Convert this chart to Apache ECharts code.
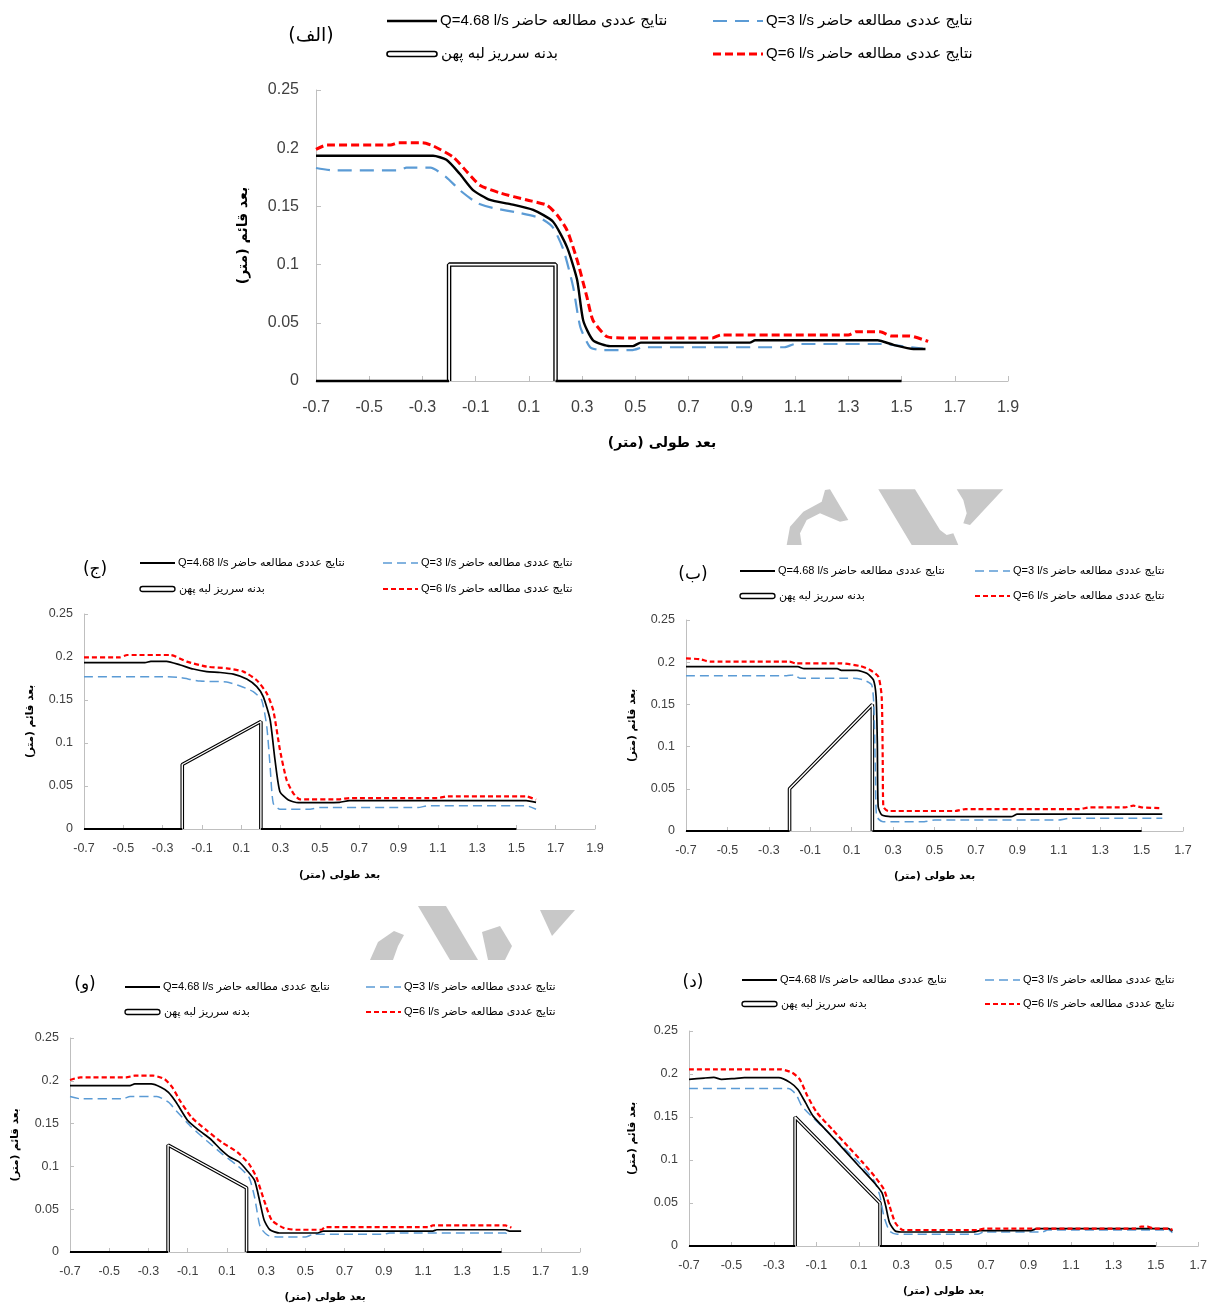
<!DOCTYPE html>
<html>
<head>
<meta charset="utf-8">
<script src="https://cdn.jsdelivr.net/npm/echarts@6/dist/echarts.min.js"></script>
<style>
  html, body { margin: 0; padding: 0; background: #fff; }
  #chart { width: 1210px; height: 1309px; }
</style>
</head>
<body>
<div id="chart"></div>
<script>
// legend / axis texts
const legendTexts = [
  'Q=4.68 l/s نتایج عددی مطالعه حاضر',
  'Q=3 l/s نتایج عددی مطالعه حاضر',
  'بدنه سرریز لبه پهن',
  'Q=6 l/s نتایج عددی مطالعه حاضر'
];
const xTitle = 'بعد طولی (متر)';
const yTitle = 'بعد قائم (متر)';

// (الف)
const body_alef = [[-0.7,0],[-0.2,0],[-0.2,0.1],[0.2,0.1],[0.2,0],[1.5,0]];
const q468_alef = [[-0.7,0.1935],[-0.26,0.1935],[-0.21,0.19],[-0.16,0.178],[-0.11,0.164],[-0.046,0.1555],[0.03,0.152],[0.116,0.147],[0.19,0.137],[0.243,0.115],[0.281,0.087],[0.304,0.052],[0.341,0.035],[0.405,0.030],[0.49,0.030],[0.52,0.033],[0.93,0.033],[0.95,0.035],[1.41,0.035],[1.47,0.031],[1.545,0.0275],[1.59,0.0275]];
const q3_alef = [[-0.7,0.183],[-0.636,0.181],[-0.39,0.181],[-0.36,0.1833],[-0.27,0.1833],[-0.21,0.175],[-0.16,0.164],[-0.095,0.153],[-0.034,0.1486],[0.067,0.1443],[0.142,0.14],[0.19,0.132],[0.23,0.1125],[0.266,0.081],[0.293,0.0464],[0.33,0.029],[0.368,0.0266],[0.49,0.0266],[0.53,0.029],[1.06,0.029],[1.1,0.0318],[1.43,0.0318],[1.5,0.030],[1.58,0.0278]];
const q6_alef = [[-0.7,0.199],[-0.66,0.2027],[-0.42,0.2027],[-0.39,0.2047],[-0.3,0.2047],[-0.26,0.202],[-0.185,0.1925],[-0.13,0.179],[-0.083,0.168],[-0.008,0.1615],[0.093,0.1555],[0.168,0.151],[0.206,0.1426],[0.243,0.1297],[0.281,0.104],[0.318,0.072],[0.341,0.052],[0.394,0.038],[0.45,0.037],[0.79,0.037],[0.82,0.0395],[1.3,0.0395],[1.33,0.0424],[1.42,0.0424],[1.46,0.0387],[1.53,0.0387],[1.6,0.034]];

// (ج)
const body_jim = [[-0.7,0],[-0.2,0],[-0.2,0.075],[0.2,0.125],[0.2,0],[1.5,0]];
const q468_jim = [[-0.7,0.1934],[-0.39,0.1934],[-0.36,0.195],[-0.28,0.195],[-0.21,0.1907],[-0.144,0.186],[-0.076,0.183],[-0.007,0.182],[0.06,0.180],[0.128,0.1744],[0.179,0.1655],[0.212,0.1539],[0.247,0.127],[0.272,0.080],[0.297,0.0434],[0.34,0.0337],[0.39,0.0306],[0.6,0.031],[0.65,0.033],[1.55,0.033],[1.6,0.031]];
const q3_jim = [[-0.7,0.177],[-0.28,0.177],[-0.21,0.176],[-0.11,0.172],[0.026,0.171],[0.094,0.1663],[0.161,0.1597],[0.204,0.15],[0.23,0.119],[0.247,0.0725],[0.263,0.0298],[0.297,0.0229],[0.45,0.0229],[0.5,0.025],[1.0,0.025],[1.05,0.027],[1.55,0.027],[1.6,0.023]];
const q6_jim = [[-0.7,0.1996],[-0.52,0.1996],[-0.48,0.2023],[-0.26,0.2023],[-0.177,0.1946],[-0.076,0.1888],[0.026,0.1868],[0.111,0.183],[0.179,0.173],[0.23,0.1577],[0.263,0.138],[0.297,0.092],[0.331,0.057],[0.365,0.0415],[0.399,0.0345],[0.6,0.0345],[0.65,0.036],[1.1,0.036],[1.15,0.038],[1.55,0.038],[1.6,0.034]];

// (ب)
const body_be = [[-0.7,0],[-0.2,0],[-0.2,0.05],[0.2,0.15],[0.2,0],[1.5,0]];
const q468_be = [[-0.7,0.1947],[-0.16,0.1947],[-0.13,0.1923],[0.03,0.1923],[0.05,0.1904],[0.125,0.1904],[0.173,0.1868],[0.205,0.179],[0.218,0.159],[0.224,0.104],[0.228,0.029],[0.245,0.019],[0.286,0.017],[0.87,0.017],[0.9,0.02],[1.6,0.02]];
const q3_be = [[-0.7,0.184],[-0.214,0.184],[-0.18,0.185],[-0.15,0.181],[0.108,0.181],[0.157,0.179],[0.197,0.173],[0.208,0.143],[0.215,0.064],[0.221,0.017],[0.253,0.011],[0.45,0.011],[0.5,0.013],[1.1,0.013],[1.15,0.015],[1.6,0.015]];
const q6_be = [[-0.7,0.2046],[-0.632,0.2035],[-0.584,0.2006],[-0.2,0.2006],[-0.17,0.1987],[0.044,0.1987],[0.14,0.1955],[0.189,0.1908],[0.229,0.1828],[0.245,0.159],[0.25,0.084],[0.253,0.0288],[0.277,0.0237],[0.6,0.0237],[0.65,0.026],[1.2,0.026],[1.25,0.028],[1.42,0.028],[1.46,0.030],[1.5,0.028],[1.6,0.027]];

// (و)
const body_vav = [[-0.7,0],[-0.2,0],[-0.2,0.125],[0.2,0.075],[0.2,0],[1.5,0]];
const q468_vav = [[-0.7,0.1944],[-0.394,0.1944],[-0.37,0.1963],[-0.286,0.1963],[-0.237,0.1925],[-0.198,0.1866],[-0.159,0.175],[-0.1,0.1536],[-0.042,0.142],[0.016,0.132],[0.065,0.1205],[0.114,0.111],[0.163,0.105],[0.202,0.0953],[0.241,0.0836],[0.27,0.0564],[0.29,0.037],[0.319,0.026],[0.368,0.0222],[0.563,0.0222],[0.59,0.0245],[1.15,0.0245],[1.17,0.026],[1.52,0.026],[1.54,0.0245],[1.6,0.0245]];
const q3_vav = [[-0.7,0.1816],[-0.647,0.179],[-0.43,0.179],[-0.394,0.1816],[-0.257,0.1816],[-0.198,0.175],[-0.159,0.165],[-0.081,0.146],[-0.003,0.130],[0.075,0.1147],[0.153,0.101],[0.212,0.0875],[0.241,0.064],[0.27,0.029],[0.309,0.0194],[0.368,0.0175],[0.5,0.0175],[0.54,0.0206],[0.895,0.0206],[0.93,0.0222],[1.52,0.0222],[1.54,0.0175]];
const q6_vav = [[-0.7,0.201],[-0.647,0.204],[-0.413,0.204],[-0.37,0.206],[-0.276,0.206],[-0.218,0.202],[-0.179,0.1925],[-0.14,0.177],[-0.081,0.1575],[-0.003,0.142],[0.075,0.128],[0.153,0.1166],[0.212,0.103],[0.25,0.0875],[0.29,0.06],[0.329,0.037],[0.387,0.0284],[0.45,0.026],[0.582,0.026],[0.6,0.029],[1.13,0.029],[1.15,0.031],[1.52,0.031],[1.55,0.0284]];

// (د)
const body_dal = [[-0.7,0],[-0.2,0],[-0.2,0.15],[0.2,0.05],[0.2,0],[1.5,0]];
const q468_dal = [[-0.7,0.1938],[-0.628,0.1953],[-0.583,0.196],[-0.547,0.1938],[-0.493,0.1946],[-0.439,0.1957],[-0.277,0.1957],[-0.223,0.19],[-0.187,0.182],[-0.151,0.1667],[-0.115,0.151],[-0.043,0.1318],[0.029,0.1124],[0.1,0.093],[0.173,0.0736],[0.209,0.062],[0.227,0.0465],[0.245,0.027],[0.272,0.0174],[0.3,0.0163],[0.64,0.0163],[0.67,0.0178],[0.91,0.0178],[0.94,0.0202],[1.56,0.0202],[1.578,0.0174]];
const q3_dal = [[-0.7,0.183],[-0.232,0.183],[-0.196,0.1764],[-0.169,0.163],[-0.115,0.149],[-0.043,0.1318],[0.029,0.1143],[0.1,0.097],[0.173,0.0756],[0.2,0.058],[0.218,0.035],[0.245,0.0174],[0.281,0.0136],[0.66,0.0136],[0.69,0.0163],[0.966,0.0163],[0.99,0.0186],[1.56,0.0186],[1.578,0.0155]];
const q6_dal = [[-0.7,0.2054],[-0.268,0.2054],[-0.214,0.2016],[-0.178,0.1938],[-0.142,0.1744],[-0.097,0.155],[-0.025,0.1357],[0.047,0.1163],[0.119,0.097],[0.173,0.0814],[0.218,0.066],[0.245,0.0465],[0.272,0.027],[0.308,0.0186],[0.66,0.0186],[0.69,0.0202],[1.4,0.0202],[1.43,0.0225],[1.46,0.0225],[1.49,0.0202],[1.565,0.0202],[1.578,0.0186]];

const NUM_FONT = "'Liberation Sans', 'DejaVu Sans', sans-serif";
const FA_FONT = "'DejaVu Sans', sans-serif";

const panels = [
  { label: '(الف)', big: true, body: body_alef, q468: q468_alef, q3: q3_alef, q6: q6_alef,
    grid: { left: 316, top: 90, width: 692, height: 291 }, xMax: 1.9, yGap: 66, xGap: 55,
    leg: { c1: 387, c2: 713, w: 50, y1: 21, y2: 54, fs: 15, lx: 311, ly: 36, lfs: 19 } },
  { label: '(ج)', big: false, body: body_jim, q468: q468_jim, q3: q3_jim, q6: q6_jim,
    grid: { left: 84, top: 614, width: 511, height: 215 }, xMax: 1.9, yGap: 48, xGap: 41,
    leg: { c1: 140, c2: 383, w: 35, y1: 563, y2: 589, fs: 11, lx: 95, ly: 570, lfs: 17 } },
  { label: '(ب)', big: false, body: body_be, q468: q468_be, q3: q3_be, q6: q6_be,
    grid: { left: 686, top: 620, width: 497, height: 211 }, xMax: 1.7, yGap: 48, xGap: 40,
    leg: { c1: 740, c2: 975, w: 35, y1: 571, y2: 596, fs: 11, lx: 693, ly: 575, lfs: 17 } },
  { label: '(و)', big: false, body: body_vav, q468: q468_vav, q3: q3_vav, q6: q6_vav,
    grid: { left: 70, top: 1038, width: 510, height: 214 }, xMax: 1.9, yGap: 49, xGap: 40,
    leg: { c1: 125, c2: 366, w: 35, y1: 987, y2: 1012, fs: 11, lx: 85, ly: 985, lfs: 17 } },
  { label: '(د)', big: false, body: body_dal, q468: q468_dal, q3: q3_dal, q6: q6_dal,
    grid: { left: 689, top: 1031, width: 510, height: 215 }, xMax: 1.7, yGap: 51, xGap: 40,
    leg: { c1: 742, c2: 985, w: 35, y1: 980, y2: 1004, fs: 11, lx: 693, ly: 983, lfs: 17 } }
];

const grids = [], xAxes = [], yAxes = [], series = [], graphics = [];

panels.forEach((p, i) => {
  const big = p.big;
  const axisCol = '#bfbfbf';
  grids.push(p.grid);
  xAxes.push({
    type: 'value', gridIndex: i, min: -0.7, max: p.xMax, interval: 0.2,
    name: xTitle, nameLocation: 'middle', nameGap: p.xGap,
    nameTextStyle: { fontFamily: FA_FONT, fontWeight: 'bold', fontSize: big ? 14 : 10.5, color: '#000' },
    axisLine: { show: true, onZero: false, lineStyle: { color: axisCol, width: 1 } },
    axisTick: { show: true, inside: true, length: big ? 5 : 4, lineStyle: { color: axisCol } },
    splitLine: { show: false },
    axisLabel: { fontFamily: NUM_FONT, fontSize: big ? 16 : 12.5, color: '#404040', margin: big ? 19 : 13,
      formatter: v => String(Math.round(v * 10) / 10) }
  });
  yAxes.push({
    type: 'value', gridIndex: i, min: 0, max: 0.25, interval: 0.05,
    name: yTitle, nameLocation: 'middle', nameGap: p.yGap, nameRotate: 90,
    nameTextStyle: { fontFamily: FA_FONT, fontWeight: 'bold', fontSize: big ? 14 : 10.5, color: '#000' },
    axisLine: { show: true, onZero: false, lineStyle: { color: axisCol, width: 1 } },
    axisTick: { show: true, inside: true, length: big ? 5 : 4, lineStyle: { color: axisCol } },
    splitLine: { show: false },
    axisLabel: { fontFamily: NUM_FONT, fontSize: big ? 16 : 12.5, color: '#404040', margin: big ? 17 : 11 }
  });

  // weir body: double-line walls/crest, single thick line on the floor
  const first = p.body.findIndex(d => d[1] !== 0);
  let last = first;
  p.body.forEach((d, k) => { if (d[1] !== 0) last = k; });
  const walls = p.body.slice(first - 1, last + 2);
  const ground = p.body.map(d => d[1] === 0 ? d : [d[0], '-']);
  const base = { type: 'line', xAxisIndex: i, yAxisIndex: i, symbol: 'none', showSymbol: false,
    animation: false, silent: true, clip: false };
  series.push(Object.assign({}, base, { data: walls, lineStyle: { color: '#000', width: big ? 4.5 : 3.6 }, z: 2 }));
  series.push(Object.assign({}, base, { data: walls, lineStyle: { color: '#fff', width: big ? 1.8 : 1.4 }, z: 3 }));
  series.push(Object.assign({}, base, { data: ground, connectNulls: false, lineStyle: { color: '#000', width: big ? 2.6 : 2 }, z: 3 }));
  series.push(Object.assign({}, base, { data: p.q3, smooth: 0.2, z: 4,
    lineStyle: { color: '#5B9BD5', width: big ? 2.2 : 1.5, type: big ? [14, 8] : [9, 5] } }));
  series.push(Object.assign({}, base, { data: p.q468, smooth: 0.2, z: 5,
    lineStyle: { color: '#000', width: big ? 2.4 : 1.7 } }));
  series.push(Object.assign({}, base, { data: p.q6, smooth: 0.2, z: 6,
    lineStyle: { color: '#FF0000', width: big ? 3 : 2.2, type: big ? [8, 4] : [5, 3] } }));

  // legend
  const L = p.leg;
  const tStyle = (x, y, text) => ({ type: 'text', style: { x, y, text, fontFamily: NUM_FONT, fontSize: L.fs,
    fill: '#000', align: 'left', verticalAlign: 'middle' } });
  graphics.push({ type: 'line', shape: { x1: L.c1, y1: L.y1, x2: L.c1 + L.w, y2: L.y1 },
    style: { stroke: '#000', lineWidth: big ? 2.5 : 1.8 } });
  graphics.push(tStyle(L.c1 + L.w + 3, L.y1, legendTexts[0]));
  graphics.push({ type: 'line', shape: { x1: L.c2, y1: L.y1, x2: L.c2 + L.w, y2: L.y1 },
    style: { stroke: '#5B9BD5', lineWidth: big ? 2.2 : 1.5, lineDash: big ? [14, 8] : [9, 5] } });
  graphics.push(tStyle(L.c2 + L.w + 3, L.y1, legendTexts[1]));
  graphics.push({ type: 'rect', shape: { x: L.c1, y: L.y2 - 2.5, width: L.w, height: 5, r: 2.5 },
    style: { fill: '#fff', stroke: '#000', lineWidth: big ? 1.6 : 1.3 } });
  graphics.push(tStyle(L.c1 + L.w + 4, L.y2, legendTexts[2]));
  graphics.push({ type: 'line', shape: { x1: L.c2, y1: L.y2, x2: L.c2 + L.w, y2: L.y2 },
    style: { stroke: '#FF0000', lineWidth: big ? 3 : 2.2, lineDash: big ? [8, 4] : [5, 3] } });
  graphics.push(tStyle(L.c2 + L.w + 3, L.y2, legendTexts[3]));
  graphics.push({ type: 'text', style: { x: L.lx, y: L.ly, text: p.label, fontFamily: FA_FONT,
    fontSize: L.lfs, fill: '#000', align: 'center', verticalAlign: 'middle' } });
});

// watermark fragments
const wmColor = '#c8c8c8';
[
  [[786.7,545],[790,526.7],[803.3,511.7],[821.7,501.7],[825,490],[830,489.3],[848.3,520],[840,521.7],[820,513.3],[806.7,520],[800,533.3],[801.7,545]],
  [[878.3,489.3],[915,489.3],[940,530],[946.7,535],[953.3,533.3],[958.3,545],[911.7,545]],
  [[956.7,489.3],[1003.3,489.3],[970,525],[963.3,523.3],[966.7,513.3],[963.3,500]],
  [[370,960],[378,942],[394,931],[404,935],[398,946],[393,960]],
  [[418,906],[446,906],[478,960],[450,960]],
  [[482,932],[500,926],[512,946],[505,960],[488,960]],
  [[540,910],[575,910],[552,936]]
].forEach(pts => graphics.push({ type: 'polygon', shape: { points: pts }, style: { fill: wmColor }, z: -10 }));

const chart = echarts.init(document.getElementById('chart'), null, { renderer: 'canvas' });
chart.setOption({
  animation: false,
  backgroundColor: '#fff',
  grid: grids,
  xAxis: xAxes,
  yAxis: yAxes,
  series: series,
  graphic: graphics
});
</script>
</body>
</html>
